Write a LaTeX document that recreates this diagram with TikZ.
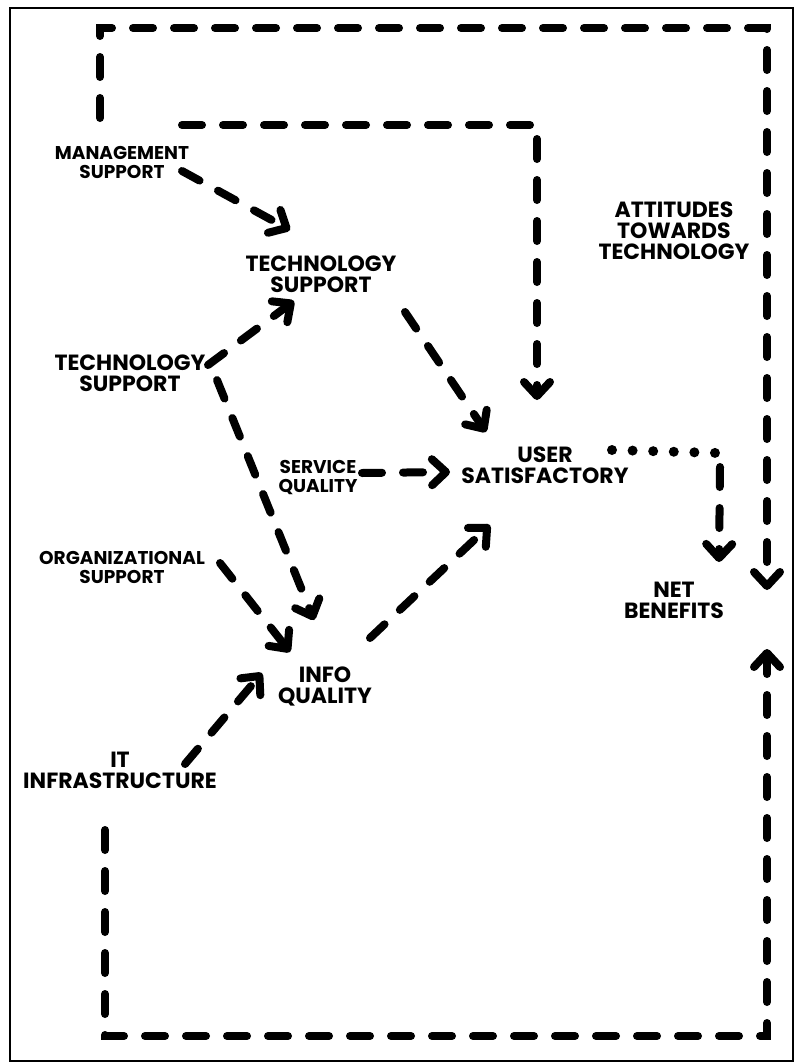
\documentclass[tikz,border=0pt]{standalone}
\usepackage{fontspec}
\setmainfont{Poppins}
\usetikzlibrary{arrows.meta}

\tikzset{
  big/.style={font=\fontsize{22}{21}\selectfont\bfseries, align=center, inner sep=0pt},
  small/.style={font=\fontsize{18.5}{19}\selectfont\bfseries, align=center, inner sep=0pt},
  flow/.style={line width=8pt, line cap=round, dash pattern=on 20pt off 21pt,
    -{Straight Barb[length=14pt, width=26pt, round]}},
  dots/.style={line width=10pt, line cap=round, dash pattern=on 0pt off 20.6pt}
}

\begin{document}
\begin{tikzpicture}[x=1pt, y=-1pt]

\useasboundingbox ( 0, 0 ) rectangle ( 795, 1063 );

% Frame
\draw [line width=1.5pt] ( 10, 8 ) rectangle ( 793, 1061 );

% Labels
\node (ms) at ( 122, 162 ) [small] {MANAGEMENT\\SUPPORT};
\node (tsTop) at ( 321, 274 ) [big] {TECHNOLOGY\\SUPPORT};
\node (tsLeft) at ( 130, 373 ) [big] {TECHNOLOGY\\SUPPORT};
\node (sq) at ( 318, 478 ) [small] {SERVICE\\QUALITY};
\node (os) at ( 122, 567 ) [small] {ORGANIZATIONAL\\SUPPORT};
\node (us) at ( 545, 465 ) [big] {USER\\SATISFACTORY};
\node (nb) at ( 674, 600 ) [big] {NET\\BENEFITS};
\node (iq) at ( 325, 686 ) [big] {INFO\\QUALITY};
\node (it) at ( 120, 770 ) [big] {IT\\INFRASTRUCTURE};
\node (att) at ( 674, 231 ) [big] {ATTITUDES\\TOWARDS\\TECHNOLOGY};

% Outer loops
\draw [flow] ([shift={( -22, -44 )}]ms.center) -- ++( 0, -90 ) -| ([shift={( 93, -10 )}]nb.center);
\draw [flow] ([shift={( 60, -37 )}]ms.center) -| ([shift={( -8, -65 )}]us.center);
\draw [flow] ([shift={( -15, 60 )}]it.center) -- ++( 0, 206 ) -| ([shift={( 93, 49 )}]nb.center);

% Support arrows
\draw [flow] ([shift={( 60, 9 )}]ms.center) -- ([shift={( -31, -44 )}]tsTop.center);
\draw [flow] ([shift={( 78, -8 )}]tsLeft.center) -- ([shift={( -27, 27 )}]tsTop.center);
\draw [flow] ([shift={( 87, 7 )}]tsLeft.center) -- ([shift={( -11, -66 )}]iq.center);
\draw [flow] ([shift={( 98, -4 )}]os.center) -- ([shift={( -35, -34 )}]iq.center);
\draw [flow] ([shift={( 65, -6 )}]it.center) -- ([shift={( -63, -13 )}]iq.center);

% Into user satisfaction
\draw [flow] ([shift={( 84, 38 )}]tsTop.center) -- ([shift={( -59, -33 )}]us.center);
\draw [flow] ([shift={( 44, -5 )}]sq.center) -- ([shift={( -95, 7 )}]us.center);
\draw [flow] ([shift={( 45, -48 )}]iq.center) -- ([shift={( -55, 60 )}]us.center);

% Net benefits
\draw [dots] ([shift={( 67, -15 )}]us.center) -- ++( 106, 3 ) coordinate (turn);
\draw [flow] ([shift={( 2, 14 )}]turn) -- ([shift={( 45, -38 )}]nb.center);

\end{tikzpicture}
\end{document}
